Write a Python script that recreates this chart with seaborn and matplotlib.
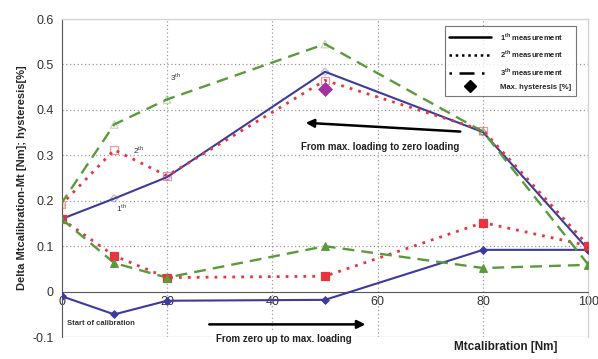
import matplotlib
matplotlib.use("Agg")
import matplotlib.pyplot as plt
from matplotlib.lines import Line2D
import seaborn as sns
import pandas as pd

sns.set_style("white")
plt.rcParams["font.family"] = ["Liberation Sans", "DejaVu Sans"]
plt.rcParams["mathtext.fontset"] = "custom"
plt.rcParams["mathtext.rm"] = "Liberation Sans"
plt.rcParams["mathtext.bf"] = "Liberation Sans:bold"

# Calibration torque steps [Nm]
mt_loading = [0, 10, 20, 50, 80, 100]
mt_unloading = [100, 80, 50, 20, 10, 0]

# Delta Mtcalibration - Mt [Nm], loading branch (zero -> max)
m1_up = [-0.01, -0.05, -0.02, -0.018, 0.092, 0.092]
m2_up = [0.16, 0.079, 0.031, 0.034, 0.152, 0.101]
m3_up = [0.16, 0.063, 0.031, 0.10, 0.052, 0.059]

# unloading branch (max -> zero)
m1_down = [0.092, 0.351, 0.484, 0.252, 0.205, 0.16]
m2_down = [0.101, 0.355, 0.465, 0.255, 0.312, 0.192]
m3_down = [0.059, 0.352, 0.545, 0.423, 0.368, 0.195]

# maximum hysteresis [%]
hyst_x = [50]
hyst_y = [0.446]

blue = "#3b3b9e"
red = "#e8343c"
green = "#5b9a3c"
purple = "#a4329c"

fig = plt.figure(figsize=(5.98, 3.59), dpi=100)
ax = fig.add_axes([0.103, 0.061, 0.881, 0.886])

def draw(x, y, color, ls, lw, marker, ms, mfc, malpha=1.0):
    df = pd.DataFrame({"x": x, "y": y})
    sns.lineplot(data=df, x="x", y="y", ax=ax, sort=False, color=color,
                 linestyle=ls, linewidth=lw, marker=None, zorder=3)
    sns.scatterplot(data=df, x="x", y="y", ax=ax, marker=marker, s=ms,
                    color=mfc if mfc != "none" else "none",
                    edgecolor=color, linewidth=0.9, alpha=malpha, zorder=4)

dot = (0, (1, 2.2))
dash = (0, (5, 3))

# loading branches: filled markers
draw(mt_loading, m1_up, blue, "-", 1.5, "D", 14, blue)
draw(mt_loading, m2_up, red, dot, 2.0, "s", 30, red)
draw(mt_loading, m3_up, green, dash, 1.7, "^", 30, green)
# unloading branches: light open markers
draw(mt_unloading, m1_down, blue, "-", 1.5, "D", 14, "none", 0.35)
draw(mt_unloading, m2_down, red, dot, 2.0, "s", 30, "none", 0.5)
draw(mt_unloading, m3_down, green, dash, 1.7, "^", 30, "none", 0.35)

sns.scatterplot(x=hyst_x, y=hyst_y, ax=ax, marker="D", s=50, color=purple,
                edgecolor=purple, zorder=5)

ax.set_xlim(0, 100)
ax.set_ylim(-0.1, 0.6)
ax.set_xticks([0, 20, 40, 60, 80, 100])
ax.set_xticks([10, 30, 50, 70, 90], minor=True)
ax.set_yticks([-0.1, 0, 0.1, 0.2, 0.3, 0.4, 0.5, 0.6])
ax.set_yticklabels(["-0.1", "0", "0.1", "0.2", "0.3", "0.4", "0.5", "0.6"])
ax.set_yticks([i / 50 for i in range(-5, 31)], minor=True)

# grid
for gx in [20, 40, 60, 80]:
    ax.axvline(gx, color="#9a9a9a", lw=0.9, ls=(0, (1, 2)), zorder=1)
for gy in [0.1, 0.2, 0.3, 0.4, 0.5]:
    ax.axhline(gy, color="#9a9a9a", lw=0.9, ls=(0, (1, 2)), zorder=1)

ax.spines["bottom"].set_position(("data", 0))
for s in ["top", "right"]:
    ax.spines[s].set_color("#d4d4d4")
    ax.spines[s].set_linewidth(1.0)
ax.spines["left"].set_color("#555555")
ax.spines["bottom"].set_color("#555555")
ax.axhline(-0.1, color="#d4d4d4", lw=1.0, zorder=0.5)

ax.tick_params(axis="both", which="major", length=4, width=0.8, color="#555555",
               labelsize=9, labelcolor="#333333", direction="inout")
ax.tick_params(axis="both", which="minor", length=2.5, width=0.6, color="#777777",
               direction="inout")
ax.tick_params(axis="x", pad=1)

ax.set_xlabel("")
ax.set_ylabel("Delta Mtcalibration-Mt [Nm]; hysteresis[%]", fontsize=8,
              fontweight="bold", labelpad=4)
fig.text(0.845, 0.018, "Mtcalibration [Nm]", fontsize=8.5, fontweight="bold",
         ha="center", va="bottom", color="#222222")

# branch labels
tk = dict(fontsize=6, color="#333333", ha="left", va="center")
ax.text(20.6, 0.472, r"3$^{\mathrm{th}}$", **tk)
ax.text(13.6, 0.311, r"2$^{\mathrm{th}}$", **tk)
ax.text(10.4, 0.184, r"1$^{\mathrm{th}}$", **tk)
ax.text(1.0, -0.071, "Start of calibration", fontsize=5.5, fontweight="bold",
        color="#333333", ha="left", va="center")

# direction arrows
ax.annotate("", xy=(45.8, 0.372), xytext=(76.2, 0.352),
            arrowprops=dict(arrowstyle="-|>", color="black", lw=1.8,
                            mutation_scale=12))
ax.text(60.5, 0.319, "From max. loading to zero loading", fontsize=7,
        fontweight="bold", color="#222222", ha="center", va="center")
ax.annotate("", xy=(58.2, -0.072), xytext=(27.5, -0.072),
            arrowprops=dict(arrowstyle="-|>", color="black", lw=1.8,
                            mutation_scale=12))
ax.text(42.2, -0.104, "From zero up to max. loading", fontsize=7,
        fontweight="bold", color="#222222", ha="center", va="center",
        bbox=dict(facecolor="white", edgecolor="none", pad=1.5), zorder=6)

handles = [
    Line2D([], [], color="black", lw=1.8, ls="-"),
    Line2D([], [], color="black", lw=1.8, ls=(0, (1, 1.5))),
    Line2D([], [], color="black", lw=1.8, ls=(0, (1, 3, 6, 3))),
    Line2D([], [], color="black", lw=0, marker="D", markersize=6),
]
labels = [r"1$^{\mathbf{th}}$ measurement", r"2$^{\mathbf{th}}$ measurement",
          r"3$^{\mathbf{th}}$ measurement", "Max. hysteresis [%]"]
leg = ax.legend(handles, labels, loc="upper right", bbox_to_anchor=(0.984, 0.99),
                prop={"size": 5.5, "weight": "bold"}, handlelength=5.5,
                frameon=True, fancybox=False, edgecolor="#555555",
                borderpad=0.6, labelspacing=0.75, handletextpad=1.2)
leg.get_frame().set_linewidth(0.8)

fig.savefig("out.png", dpi=100)
